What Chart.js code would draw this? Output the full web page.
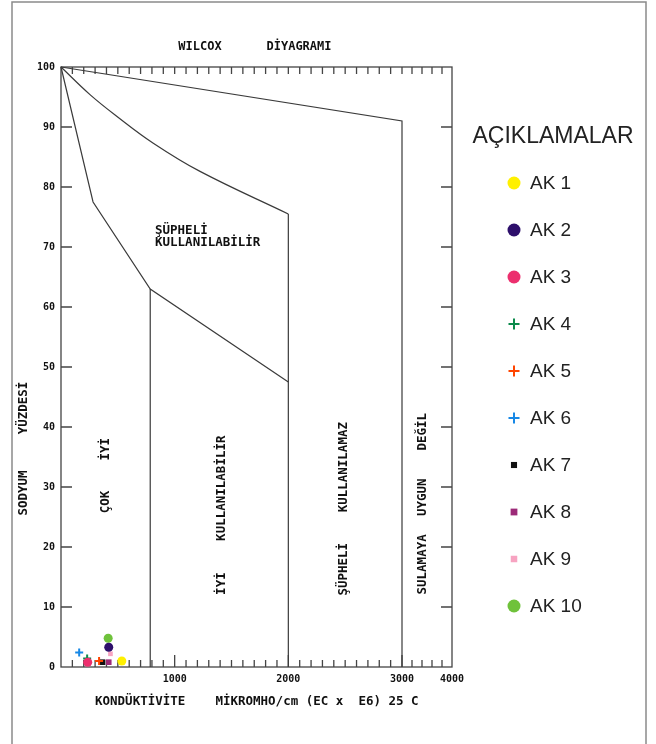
<!DOCTYPE html>
<html lang="tr">
<head>
    <meta charset="UTF-8">
    <title>Wilcox Diyagramı</title>
    <script src="https://cdn.jsdelivr.net/npm/chart.js"></script>
    <style>
        body {
            margin: 0;
            background: #fff;
        }
        #wrap {
            position: relative;
            width: 656px;
            height: 744px;
        }
    </style>
</head>
<body>
    <div id="wrap"><canvas id="wilcoxChart"></canvas></div>

    <script>
        // Samples (EC in micromho/cm, sodium %)
        const sampleLabels = ['AK 1', 'AK 2', 'AK 3', 'AK 4', 'AK 5', 'AK 6', 'AK 7', 'AK 8', 'AK 9', 'AK 10'];
        const ecValues = [535, 420, 235, 230, 335, 160, 365, 420, 435, 415];
        const sodiumValues = [1.0, 3.3, 0.8, 1.4, 1.0, 2.4, 0.8, 0.8, 2.2, 4.8];

        // Class boundaries of the diagram
        const topLineEC = [0, 3000, 3000];
        const topLineNa = [100, 91, 0];
        const curveAEC = [0, 255, 490, 812, 1223, 2000];
        const curveANa = [100, 95.4, 91.8, 87.3, 82.6, 75.5];
        const lineAEC = [2000, 2000];
        const lineANa = [75.5, 0];
        const curveBEC = [0, 282, 785, 2000];
        const curveBNa = [100, 77.5, 63, 47.5];
        const lineBEC = [785, 785];
        const lineBNa = [63, 0];

        // Axis ticks
        const xTickValues = [1000, 2000, 3000, 4000];
        const yTickValues = [0, 10, 20, 30, 40, 50, 60, 70, 80, 90, 100];

        // Marker styles
        const sampleColors = ['#fff000', '#2d0f6b', '#ec2f6e', '#0b8a4b', '#ff4500', '#1788e6', '#111111', '#9c2a78', '#f7a3c1', '#6fc23b'];
        const sampleShapes = ['circle', 'circle', 'circle', 'cross', 'cross', 'cross', 'rect', 'rect', 'rect', 'circle'];
        const plotRadius = [4.5, 4.5, 4.5, 4, 4, 4, 4, 4, 3.3, 4.5];
        const legendRadius = [6.5, 6.5, 6.5, 5.5, 5.5, 5.5, 4.3, 4.8, 4.6, 6.5];

        const MONO = '"DejaVu Sans Mono", "Liberation Mono", monospace';
        const SANS = '"Liberation Sans", Arial, sans-serif';

        // EC axis: 0-3000 linear, 3000-4000 squeezed into the last strip
        const EC_BREAK = 3000;
        const BREAK_FRAC = 341 / 391;

        class WilcoxScale extends Chart.LinearScale {
            getPixelForValue(value) {
                const d = value <= EC_BREAK
                    ? value / EC_BREAK * BREAK_FRAC
                    : BREAK_FRAC + (value - EC_BREAK) / (this.max - EC_BREAK) * (1 - BREAK_FRAC);
                return this.getPixelForDecimal(d);
            }
            getValueForPixel(pixel) {
                const d = this.getDecimalForPixel(pixel);
                return d <= BREAK_FRAC
                    ? d / BREAK_FRAC * EC_BREAK
                    : EC_BREAK + (d - BREAK_FRAC) / (1 - BREAK_FRAC) * (this.max - EC_BREAK);
            }
        }
        WilcoxScale.id = 'wilcox';
        WilcoxScale.defaults = {};
        Chart.register(WilcoxScale);

        function toPoints(xs, ys) {
            return xs.map((x, i) => ({ x: x, y: ys[i] }));
        }

        function boundary(xs, ys, tension) {
            return {
                data: toPoints(xs, ys),
                showLine: true,
                borderColor: '#3a3a3a',
                borderWidth: 1.2,
                pointRadius: 0,
                fill: false,
                tension: tension,
                clip: false,
                order: 1
            };
        }

        const sampleSets = sampleLabels.map((label, i) => ({
            label: label,
            isSample: true,
            data: [{ x: ecValues[i], y: sodiumValues[i] }],
            pointStyle: sampleShapes[i],
            pointRadius: plotRadius[i],
            pointBackgroundColor: sampleColors[i],
            pointBorderColor: sampleColors[i],
            pointBorderWidth: sampleShapes[i] === 'cross' ? 2 : 0,
            backgroundColor: sampleColors[i],
            borderColor: sampleColors[i],
            showLine: false,
            clip: false,
            order: 0
        }));

        // Text on the diagram: region names (data coords), titles, legend
        const regionLabels = [
            { text: 'ÇOK', x: 396, y: 27.5, rot: true },
            { text: 'İYİ', x: 396, y: 36.3, rot: true },
            { text: 'İYİ', x: 1416, y: 13.9, rot: true },
            { text: 'KULLANILABİLİR', x: 1416, y: 29.8, rot: true },
            { text: 'ŞÜPHELİ', x: 2490, y: 16.3, rot: true },
            { text: 'KULLANILAMAZ', x: 2490, y: 33.3, rot: true },
            { text: 'SULAMAYA', x: 3420, y: 17.1, rot: true },
            { text: 'UYGUN', x: 3420, y: 28.3, rot: true },
            { text: 'DEĞİL', x: 3420, y: 39.2, rot: true },
            { text: 'ŞÜPHELİ', x: 827, y: 72.7, rot: false },
            { text: 'KULLANILABİLİR', x: 827, y: 70.7, rot: false }
        ];

        const wilcoxDecor = {
            id: 'wilcoxDecor',
            beforeDraw(chart) {
                const ctx = chart.ctx;
                ctx.save();
                ctx.fillStyle = '#fff';
                ctx.fillRect(0, 0, chart.width, chart.height);
                ctx.strokeStyle = '#8a8a8a';
                ctx.lineWidth = 1.5;
                ctx.strokeRect(12, 2, 634, 760);
                ctx.restore();
            },
            beforeDatasetsDraw(chart) {
                const { ctx, chartArea: a, scales: { x, y } } = chart;
                ctx.save();
                ctx.strokeStyle = '#444';
                ctx.lineWidth = 1.3;
                ctx.strokeRect(a.left, a.top, a.right - a.left, a.bottom - a.top);
                ctx.beginPath();
                const minor = [];
                for (let v = 100; v <= 3000; v += 100) minor.push(v);
                [3200, 3400, 3600, 3800].forEach(v => minor.push(v));
                minor.forEach(v => {
                    const px = x.getPixelForValue(v);
                    const major = v % 1000 === 0;
                    ctx.moveTo(px, a.top);
                    ctx.lineTo(px, a.top + 7);
                    ctx.moveTo(px, a.bottom);
                    ctx.lineTo(px, a.bottom - (major ? 12 : 7));
                });
                for (let v = 10; v < 100; v += 10) {
                    const py = y.getPixelForValue(v);
                    ctx.moveTo(a.left, py);
                    ctx.lineTo(a.left + 11, py);
                    ctx.moveTo(a.right, py);
                    ctx.lineTo(a.right - 11, py);
                }
                ctx.stroke();
                ctx.restore();
            },
            afterDraw(chart) {
                const { ctx, scales: { x, y } } = chart;
                ctx.save();
                ctx.fillStyle = '#111';
                ctx.textBaseline = 'middle';

                // title
                ctx.font = 'bold 12px ' + MONO;
                ctx.textAlign = 'center';
                ctx.fillText('WILCOX', 200, 47);
                ctx.fillText('DİYAGRAMI', 299, 47);

                // axis titles
                ctx.font = 'bold 12.5px ' + MONO;
                ctx.textAlign = 'left';
                ctx.fillText('KONDÜKTİVİTE    MİKROMHO/cm (EC x  E6) 25 C', 95, 702);
                ctx.textAlign = 'center';
                [['SODYUM', 493], ['YÜZDESİ', 408]].forEach(([t, cy]) => {
                    ctx.save();
                    ctx.translate(24, cy);
                    ctx.rotate(-Math.PI / 2);
                    ctx.fillText(t, 0, 0);
                    ctx.restore();
                });

                // region names
                regionLabels.forEach(l => {
                    const px = x.getPixelForValue(l.x);
                    const py = y.getPixelForValue(l.y);
                    if (l.rot) {
                        ctx.save();
                        ctx.translate(px, py);
                        ctx.rotate(-Math.PI / 2);
                        ctx.textAlign = 'center';
                        ctx.fillText(l.text, 0, 0);
                        ctx.restore();
                    } else {
                        ctx.textAlign = 'left';
                        ctx.fillText(l.text, px, py);
                    }
                });

                // legend
                ctx.fillStyle = '#222';
                ctx.textAlign = 'center';
                ctx.font = '23px ' + SANS;
                ctx.fillText('AÇIKLAMALAR', 553, 137);
                ctx.font = '19px ' + SANS;
                ctx.textAlign = 'left';
                chart.data.datasets.filter(d => d.isSample).forEach((ds, i) => {
                    const cy = 183 + i * 47;
                    ctx.fillStyle = ds.pointBackgroundColor;
                    ctx.strokeStyle = ds.pointBorderColor;
                    ctx.lineWidth = ds.pointBorderWidth;
                    Chart.helpers.drawPoint(ctx, {
                        pointStyle: ds.pointStyle,
                        radius: legendRadius[i],
                        borderWidth: ds.pointBorderWidth,
                        rotation: 0
                    }, 514, cy);
                    ctx.fillStyle = '#222';
                    ctx.fillText(ds.label, 530, cy + 1);
                });
                ctx.restore();
            }
        };

        const tickFont = { family: MONO, size: 10, weight: 'bold' };

        new Chart(document.getElementById('wilcoxChart'), {
            type: 'scatter',
            data: {
                datasets: sampleSets.concat([
                    boundary(topLineEC, topLineNa, 0),
                    boundary(curveAEC, curveANa, 0.4),
                    boundary(lineAEC, lineANa, 0),
                    boundary(curveBEC, curveBNa, 0),
                    boundary(lineBEC, lineBNa, 0)
                ])
            },
            options: {
                responsive: true,
                maintainAspectRatio: false,
                animation: false,
                events: [],
                layout: {
                    padding: { left: 21, top: 67, right: 204, bottom: 47 }
                },
                plugins: {
                    legend: { display: false },
                    tooltip: { enabled: false }
                },
                scales: {
                    x: {
                        type: 'wilcox',
                        min: 0,
                        max: 4000,
                        grid: { display: false, drawTicks: false },
                        border: { display: false },
                        afterBuildTicks: s => { s.ticks = xTickValues.map(v => ({ value: v })); },
                        afterFit: s => { s.height = 30; s.paddingLeft = 0; s.paddingRight = 0; },
                        ticks: {
                            autoSkip: false,
                            maxRotation: 0,
                            padding: 6,
                            color: '#111',
                            font: tickFont,
                            callback: v => String(v)
                        }
                    },
                    y: {
                        type: 'linear',
                        min: 0,
                        max: 100,
                        grid: { display: false, drawTicks: false },
                        border: { display: false },
                        afterBuildTicks: s => { s.ticks = yTickValues.map(v => ({ value: v })); },
                        afterFit: s => { s.width = 40; s.paddingTop = 0; s.paddingBottom = 0; },
                        ticks: {
                            autoSkip: false,
                            padding: 6,
                            color: '#111',
                            font: tickFont,
                            callback: v => String(v)
                        }
                    }
                }
            },
            plugins: [wilcoxDecor]
        });
    </script>
</body>
</html>
